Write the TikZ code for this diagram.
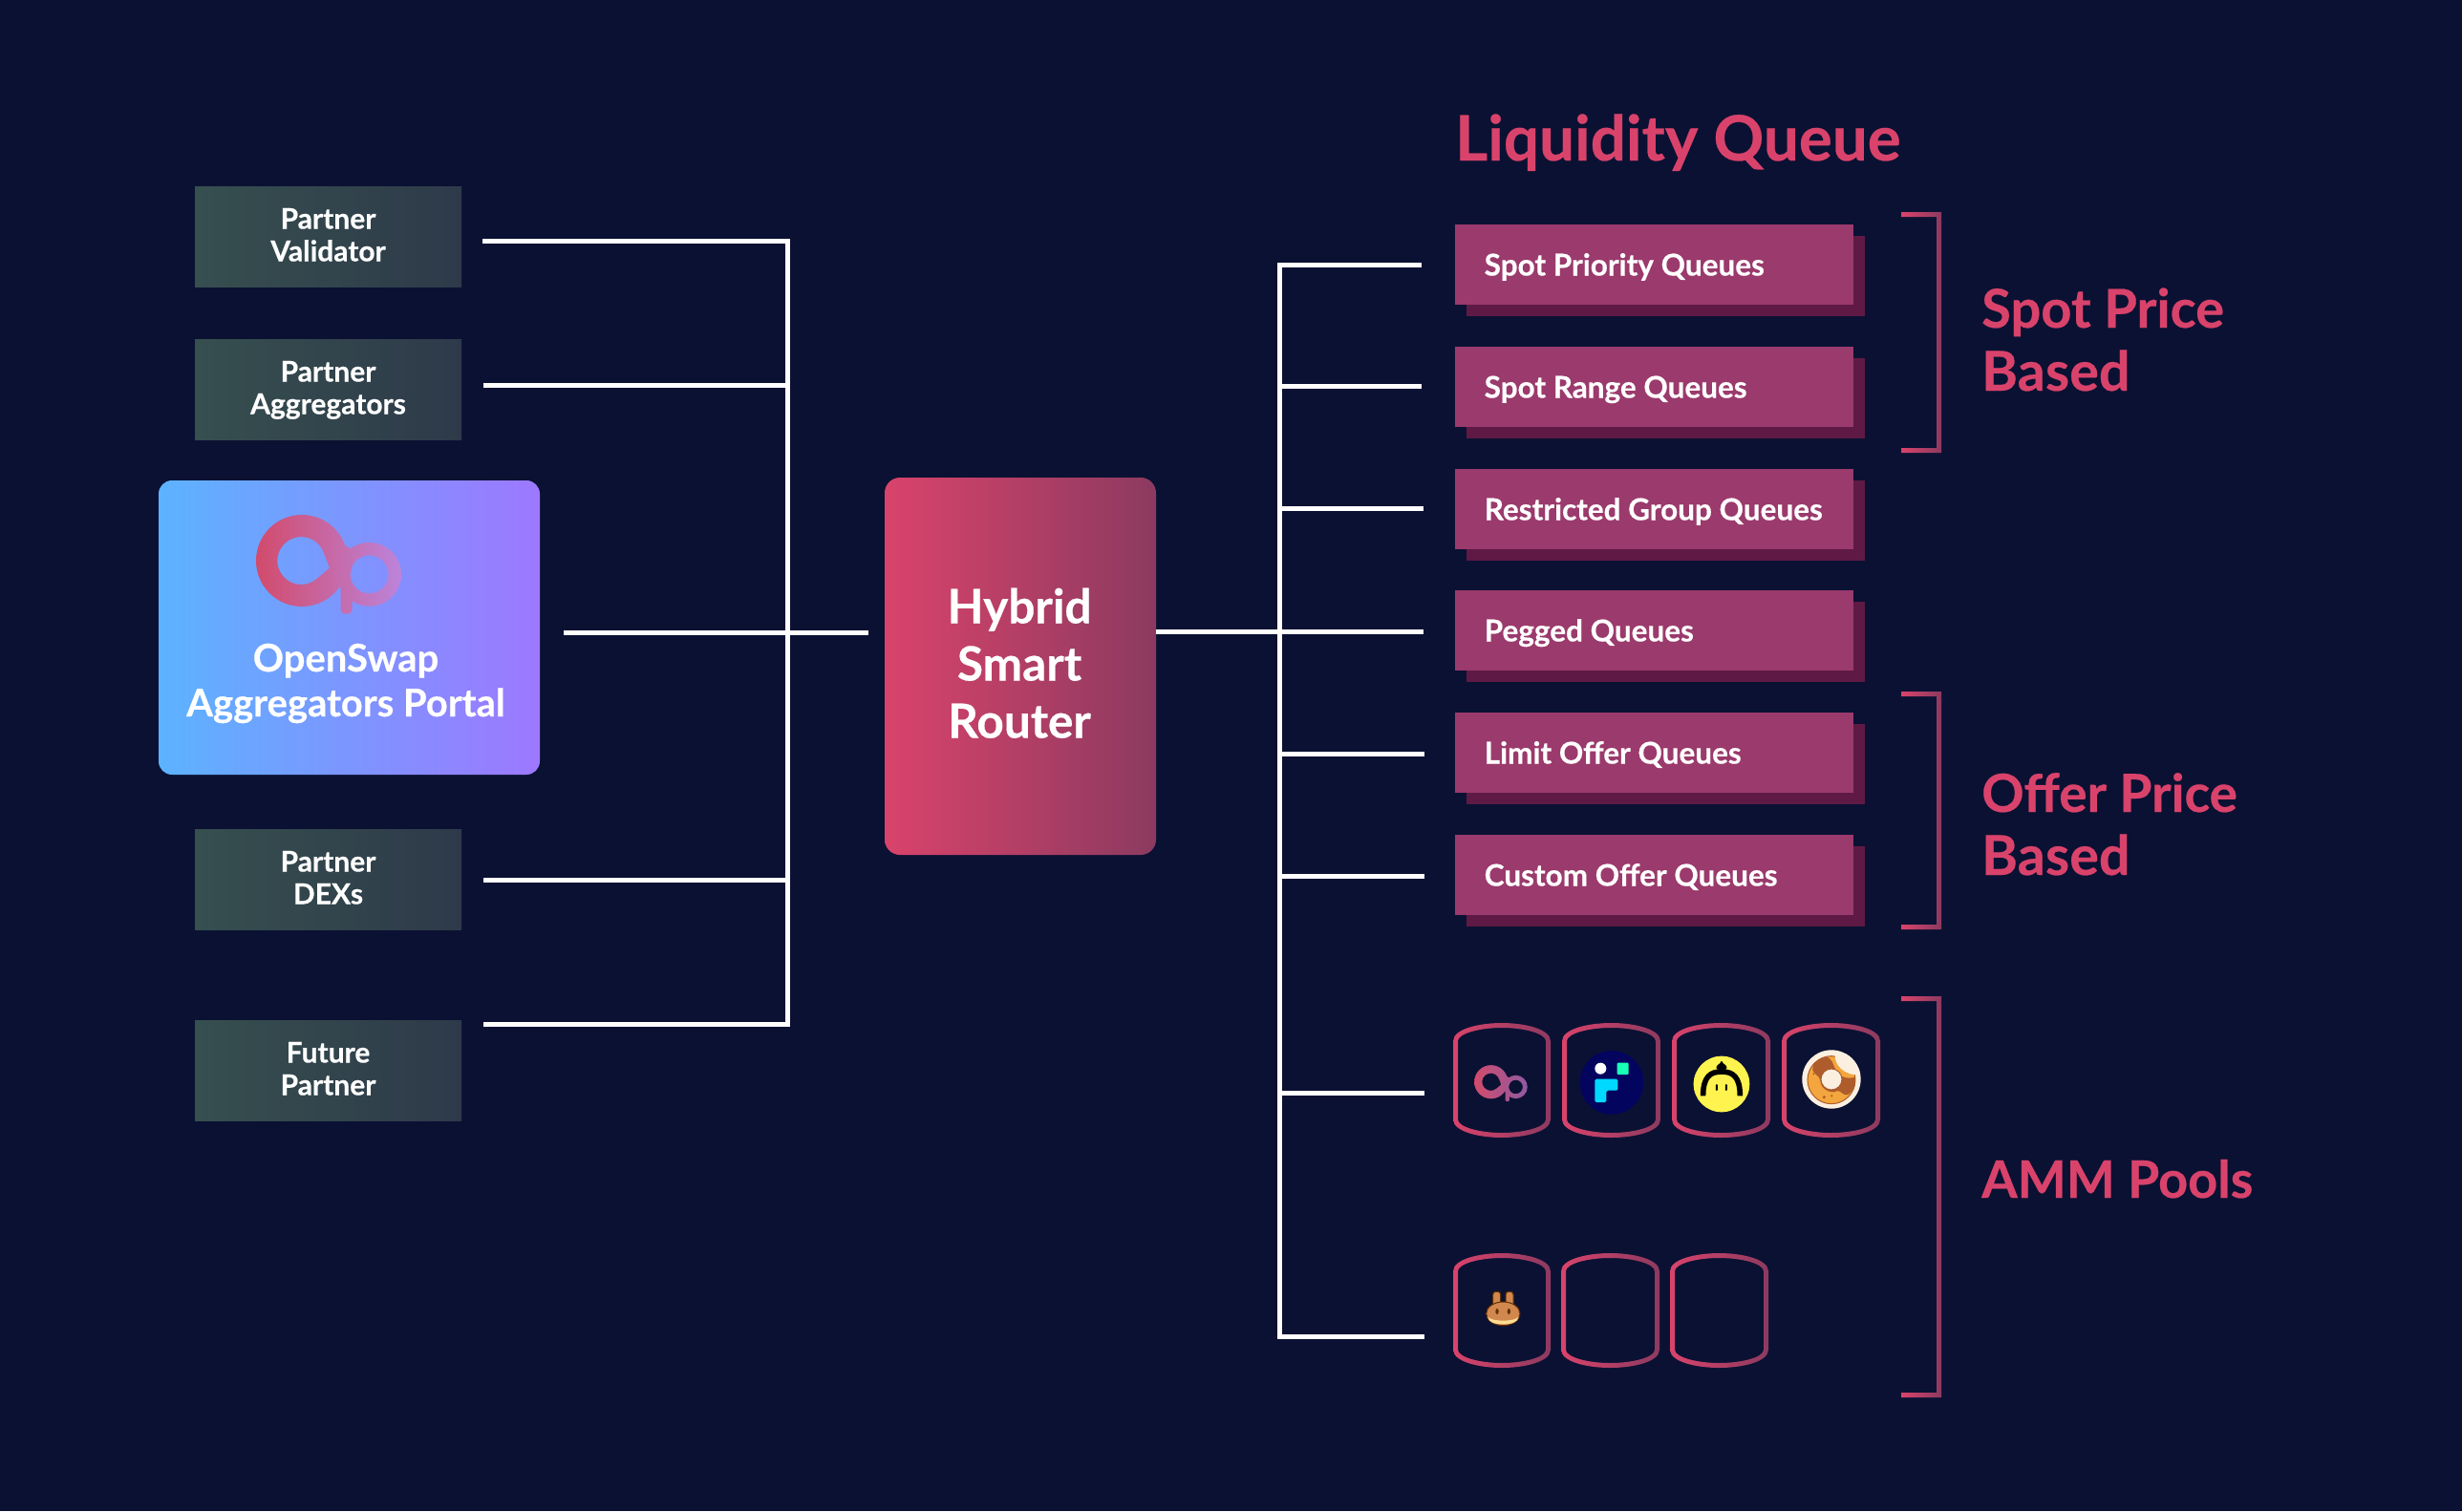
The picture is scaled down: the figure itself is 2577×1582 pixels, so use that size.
\documentclass[tikz,border=0pt]{standalone}
\usepackage{fontspec}
\setmainfont{Lato}[BoldFeatures={FakeBold=0.4}]
\definecolor{bgc}{HTML}{0B1133}
\definecolor{pinkt}{HTML}{D9436B}
\definecolor{pinkd}{HTML}{8C3A60}
\definecolor{queuec}{HTML}{9B3A6C}
\definecolor{queues}{HTML}{5E1A45}
\definecolor{pa}{HTML}{364F4F}
\definecolor{pb}{HTML}{2E3A4A}
\definecolor{porta}{HTML}{5CB3FF}
\definecolor{portb}{HTML}{9D78FF}
\definecolor{opa}{HTML}{D24B6C}
\definecolor{opb}{HTML}{BC84DB}
\definecolor{opc}{HTML}{8F5AA0}
\definecolor{navyc}{HTML}{03045E}
\definecolor{mintc}{HTML}{19FFB5}
\definecolor{cyanc}{HTML}{00D9FF}
\definecolor{yellowc}{HTML}{FFF44F}
\definecolor{creamc}{HTML}{FBF0E0}
\definecolor{donutc}{HTML}{F3A63D}
\definecolor{chococ}{HTML}{AE5C2C}
\definecolor{bunnyc}{HTML}{D1884F}
\definecolor{bunnyd}{HTML}{633001}
\definecolor{bunnyl}{HTML}{FEDC90}
\newcommand{\barrelpath}[5]{%
  (#1+#5,#3+19) .. controls (#1+#5,#3+6+#5) and (#1+28,#3+#5) .. ({(#1+#2)/2},#3+#5)
  .. controls (#2-28,#3+#5) and (#2-#5,#3+6+#5) .. (#2-#5,#3+19)
  -- (#2-#5,#4-19) .. controls (#2-#5,#4-6-#5) and (#2-28,#4-#5) .. ({(#1+#2)/2},#4-#5)
  .. controls (#1+28,#4-#5) and (#1+#5,#4-6-#5) .. (#1+#5,#4-19) -- cycle}
\newcommand{\barrel}[5]{%
  \path[even odd rule,left color=pinkt,right color=pinkd] \barrelpath{#2}{#3}{#4}{#5}{0} \barrelpath{#2}{#3}{#4}{#5}{5};
  \coordinate (#1) at ({(#2+#3)/2},{(#4+#5)/2});}
\newcommand{\bracketmark}[3]{%
  \path[left color=pinkt,right color=pinkd] (1990,#2) -- (2032,#2) -- (2032,#3) -- (1990,#3) -- (1990,#3-5) -- (2027,#3-5) -- (2027,#2+5) -- (1990,#2+5) -- cycle;
  \coordinate (#1) at (2032,{(#2+#3)/2});}
\newcommand{\opcircle}[3]{(#1+#3,#2) arc[start angle=0,end angle=360,radius=#3]}
\newcommand{\ophole}[3]{(#1+#3,#2) arc[start angle=0,end angle=-360,radius=#3]}
\newcommand{\oplogo}[5]{%
  \begin{scope}[shift={(#1,#2)},x=#3pt,y=-#3pt]
  \path[left color=#4,right color=#5,nonzero rule]
    \opcircle{0}{0}{144}
    (69.7,-21.9) arc[start angle=-17,end angle=-313,radius=75] -- (87,23) -- cycle
    \opcircle{212}{43}{100}
    \ophole{212}{43}{60}
    (95,25) -- (120,-55) -- (170,-30) -- (150,50) -- (70,120) -- (20,135) -- cycle
    (122,85) .. controls (140,60) and (158,75) .. (158,85) -- (158,155) .. controls (158,172) and (122,172) .. (122,155) -- cycle;
  \end{scope}}
\tikzset{
  x=1pt,y=-1pt,
  partnerbox/.style={left color=pa,right color=pb,minimum width=279pt,minimum height=105pt,inner sep=0pt},
  partnertext/.style={anchor=base,inner sep=0pt,text=white,font=\bfseries\fontsize{30}{34}\selectfont},
  portaltext/.style={anchor=base,inner sep=0pt,text=white,font=\bfseries\fontsize{40}{44}\selectfont},
  hybridtext/.style={anchor=base,inner sep=0pt,text=white,font=\bfseries\fontsize{49.5}{60}\selectfont},
  queuebox/.style={fill=queuec,minimum width=417pt,minimum height=84pt,inner sep=0pt,anchor=north west},
  queueshadow/.style={fill=queues,minimum width=417pt,minimum height=84pt,inner sep=0pt,anchor=north west},
  queuetext/.style={anchor=base west,inner sep=0pt,text=white,font=\bfseries\fontsize{31.5}{36}\selectfont},
  headtext/.style={anchor=base west,inner sep=0pt,text=pinkt,font=\bfseries\fontsize{#1}{#1}\selectfont},
  wire/.style={white,line width=5pt,line cap=butt,line join=miter},
}
\begin{document}
\begin{tikzpicture}
\useasboundingbox (0,0) rectangle (2577,1582);
\fill[bgc] (0,0) rectangle (2577,1582);

% partner boxes
\foreach \n/\yy in {pv/248,pg/407.5,pd/920.5,pf/1120.5}{
  \node[partnerbox] (\n) at (343.5,\yy) {};
}
\foreach \n/\a/\b/\yy in {pv/Partner/Validator/239.5,pg/Partner/Aggregators/399.5,pd/Partner/DEXs/912.5,pf/Future/Partner/1112.5}{
  \node[partnertext] (\n a) at (343.5,\yy) {\a};
  \node[partnertext] (\n b) at (343.5,\yy+34) {\b};
}

% portal
\path[rounded corners=14pt,left color=porta,right color=portb] (166,503) rectangle (565,811);
\oplogo{316}{587}{0.3333}{opa}{opb}
\node[portaltext] (portalA) at (362,703) {OpenSwap};
\node[portaltext] (portalB) at (362,750) {Aggregators Portal};

% hybrid router
\path[rounded corners=16pt,left color=pinkt,right color=pinkd] (926,500) rectangle (1210,895);
\coordinate (hybrid) at (1210,661);
\node[hybridtext] (hA) at (1067,652.5) {Hybrid};
\node[hybridtext] (hB) at (1067,712.5) {Smart};
\node[hybridtext] (hC) at (1067,772.5) {Router};

% left connectors
\coordinate (lt) at (824,252);
\coordinate (lb) at (824,1072);
\coordinate (e1) at (505,252);
\coordinate (e2) at (506,403);
\coordinate (e3) at (590,662);
\coordinate (e4) at (506,921);
\coordinate (e5) at (506,1072);
\coordinate (j2) at (824,403);
\coordinate (j4) at (824,921);
\coordinate (into) at (909,662);
\draw[wire] (e1) -- (lt) -- (lb) -- (e5);
\draw[wire] (e2) -- (j2);
\draw[wire] (e3) -- (into);
\draw[wire] (e4) -- (j4);

% right connectors
\coordinate (rt) at (1339,277);
\coordinate (rb) at (1339,1399);
\coordinate (q1e) at (1488,277);
\coordinate (a2e) at (1491,1399);
\draw[wire] (q1e) -- (rt) -- (rb) -- (a2e);
\foreach \yy/\xx in {404.5/1488,532.5/1490,661/1490,789/1491,917/1491,1144.5/1491}{
  \draw[wire] (1339,\yy) -- (\xx,\yy);
}
\draw[wire] (hybrid) -- (1339,661);

% queues
\foreach \yy/\t in {235/Spot Priority Queues,363/Spot Range Queues,491/Restricted Group Queues,618/Pegged Queues,746/Limit Offer Queues,874/Custom Offer Queues}{
  \node[queueshadow] at (1534.5,\yy+12) {};
  \node[queuebox] at (1522.5,\yy) {};
  \node[queuetext] at (1553.5,\yy+53.5) {\t};
}

% brackets
\bracketmark{br1}{222}{474}
\bracketmark{br2}{724}{973}
\bracketmark{br3}{1043}{1463}

% headings
\node[headtext=65.5] (lq) at (1523,168) {Liquidity Queue};
\node[headtext=56] (s1) at (2074,343) {Spot Price};
\node[headtext=57.5] (s2) at (2074,409) {Based};
\node[headtext=55] (o1) at (2074,850) {Offer Price};
\node[headtext=57.5] (o2) at (2074,916) {Based};
\node[headtext=54] (amm) at (2074,1254) {AMM Pools};

% pools
\barrel{a1}{1521}{1623}{1071}{1191}
\barrel{a2}{1635}{1738}{1071}{1191}
\barrel{a3}{1750}{1853}{1071}{1191}
\barrel{a4}{1865}{1968}{1071}{1191}
\barrel{b1}{1521}{1623}{1312}{1432}
\barrel{b2}{1634}{1737}{1312}{1432}
\barrel{b3}{1748}{1851}{1312}{1432}

% pool logos
\oplogo{1560.7}{1132.7}{0.122}{opa}{opc}

\begin{scope}[shift={(1490,1040)},x=.3333pt,y=-.3333pt]
  % blue logo
  \fill[navyc] (591,280) circle[radius=100];
  \fill[white] (556,236) circle[radius=18];
  \fill[mintc,rounded corners=1pt] (608,218) rectangle (644,255);
  \fill[cyanc,rounded corners=1.5pt] (538,269) -- (610,269) -- (610,305) -- (574,305) -- (574,342) -- (538,342) -- cycle;
  % yellow logo
  \fill[yellowc] (936,285) circle[radius=88];
  \draw[black,line width=5.6pt,line cap=butt] (878,322) .. controls (878,262) and (900,246) .. (936,246) .. controls (972,246) and (994,262) .. (994,322);
  \fill[black] (936,212) .. controls (942,225) and (955,225) .. (952,235) .. controls (950,243) and (922,243) .. (920,235) .. controls (917,225) and (930,225) .. (936,212) -- cycle;
  \fill[black,rounded corners=1pt] (918,285) rectangle (924,306);
  \fill[black,rounded corners=1pt] (948,285) rectangle (954,306);
  % donut logo
  \fill[creamc] (1281,270) circle[radius=92];
  \draw[chococ,fill=donutc,line width=1pt] (1281,272) circle[radius=75];
  \begin{scope}
    \clip (1281,272) circle[radius=75];
    \fill[chococ] (1222,240) .. controls (1222,215) and (1240,195) .. (1262,198) .. controls (1285,205) and (1285,222) .. (1292,235) .. controls (1302,262) and (1330,272) .. (1358,262) -- (1358,290) .. controls (1345,300) and (1340,325) .. (1322,318) .. controls (1310,312) and (1305,300) .. (1290,310) .. controls (1262,312) and (1245,290) .. (1245,270) .. controls (1240,255) and (1225,255) .. (1222,240) -- cycle;
  \end{scope}
  \begin{scope}
    \clip (1281,270) circle[radius=92];
    \fill[creamc] (1292,190) .. controls (1290,225) and (1320,260) .. (1375,256) -- (1375,190) -- cycle;
  \end{scope}
  \draw[chococ,fill=creamc,line width=1pt] (1281,270) circle[radius=33];
  \fill[chococ] (1225,253) circle[radius=3] (1258,326) circle[radius=5] (1282,322) circle[radius=3.5];
\end{scope}

\begin{scope}[shift={(1490,1290)},x=.3333pt,y=-.3333pt]
  % bunny logo
  \draw[bunnyd,fill=bunnyc,line width=1pt,rounded corners=3pt] (218,240) -- (218,187) -- (242,187) -- (242,240) -- cycle;
  \draw[bunnyd,fill=bunnyc,line width=1pt,rounded corners=3pt] (258,240) -- (258,187) -- (282,187) -- (282,240) -- cycle;
  \draw[bunnyd,fill=bunnyc,line width=1pt] (250,256) ellipse[x radius=53,y radius=37];
  \fill[bunnyc] (222,235) rectangle (240,245) (260,235) rectangle (278,245);
  \fill[bunnyl] (201,266) .. controls (215,282) and (285,282) .. (299,266) .. controls (295,285) and (275,289) .. (250,289) .. controls (225,289) and (205,285) .. (201,266) -- cycle;
  \fill[bunnyd] (231,249) ellipse[x radius=5,y radius=9] (268,249) ellipse[x radius=5,y radius=9];
\end{scope}
\end{tikzpicture}
\end{document}
